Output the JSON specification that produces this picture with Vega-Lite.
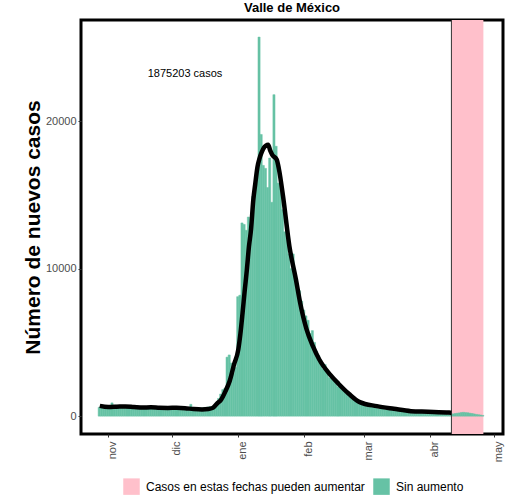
{
  "$schema": "https://vega.github.io/schema/vega-lite/v6.json",
  "width": 422,
  "height": 414,
  "autosize": {"type": "none"},
  "padding": {"left": 81, "top": 20, "right": 22, "bottom": 68},
  "title": {"text": "Valle de México", "fontSize": 13, "fontWeight": "bold", "anchor": "middle", "offset": 5, "color": "black"},
  "datasets": {
    "casos": [
      {"date": "2020/10/27", "n": 600}, {"date": "2020/10/28", "n": 650}, {"date": "2020/10/29", "n": 700},
      {"date": "2020/10/30", "n": 680}, {"date": "2020/10/31", "n": 720}, {"date": "2020/11/01", "n": 650},
      {"date": "2020/11/02", "n": 900}, {"date": "2020/11/03", "n": 700}, {"date": "2020/11/04", "n": 750},
      {"date": "2020/11/05", "n": 620}, {"date": "2020/11/06", "n": 580}, {"date": "2020/11/07", "n": 700},
      {"date": "2020/11/08", "n": 720}, {"date": "2020/11/09", "n": 680}, {"date": "2020/11/10", "n": 650},
      {"date": "2020/11/11", "n": 600}, {"date": "2020/11/12", "n": 580}, {"date": "2020/11/13", "n": 650},
      {"date": "2020/11/14", "n": 700}, {"date": "2020/11/15", "n": 680}, {"date": "2020/11/16", "n": 640},
      {"date": "2020/11/17", "n": 600}, {"date": "2020/11/18", "n": 560}, {"date": "2020/11/19", "n": 620},
      {"date": "2020/11/20", "n": 650}, {"date": "2020/11/21", "n": 640}, {"date": "2020/11/22", "n": 600},
      {"date": "2020/11/23", "n": 560}, {"date": "2020/11/24", "n": 540}, {"date": "2020/11/25", "n": 600},
      {"date": "2020/11/26", "n": 620}, {"date": "2020/11/27", "n": 610}, {"date": "2020/11/28", "n": 580},
      {"date": "2020/11/29", "n": 550}, {"date": "2020/11/30", "n": 520}, {"date": "2020/12/01", "n": 580},
      {"date": "2020/12/02", "n": 600}, {"date": "2020/12/03", "n": 590}, {"date": "2020/12/04", "n": 560},
      {"date": "2020/12/05", "n": 540}, {"date": "2020/12/06", "n": 520}, {"date": "2020/12/07", "n": 560},
      {"date": "2020/12/08", "n": 580}, {"date": "2020/12/09", "n": 800}, {"date": "2020/12/10", "n": 560},
      {"date": "2020/12/11", "n": 530}, {"date": "2020/12/12", "n": 500}, {"date": "2020/12/13", "n": 520},
      {"date": "2020/12/14", "n": 560}, {"date": "2020/12/15", "n": 580}, {"date": "2020/12/16", "n": 600},
      {"date": "2020/12/17", "n": 620}, {"date": "2020/12/18", "n": 650}, {"date": "2020/12/19", "n": 600},
      {"date": "2020/12/20", "n": 560}, {"date": "2020/12/21", "n": 900}, {"date": "2020/12/22", "n": 1200},
      {"date": "2020/12/23", "n": 1500}, {"date": "2020/12/24", "n": 1800}, {"date": "2020/12/25", "n": 1900},
      {"date": "2020/12/26", "n": 4000}, {"date": "2020/12/27", "n": 4150}, {"date": "2020/12/28", "n": 3600},
      {"date": "2020/12/29", "n": 2900}, {"date": "2020/12/30", "n": 3300}, {"date": "2020/12/31", "n": 8100},
      {"date": "2021/01/01", "n": 8200}, {"date": "2021/01/02", "n": 13100}, {"date": "2021/01/03", "n": 13000},
      {"date": "2021/01/04", "n": 12600}, {"date": "2021/01/05", "n": 13500}, {"date": "2021/01/06", "n": 12800},
      {"date": "2021/01/07", "n": 14900}, {"date": "2021/01/08", "n": 15600}, {"date": "2021/01/09", "n": 16500},
      {"date": "2021/01/10", "n": 25700}, {"date": "2021/01/11", "n": 19100}, {"date": "2021/01/12", "n": 17000},
      {"date": "2021/01/13", "n": 16800}, {"date": "2021/01/14", "n": 15500}, {"date": "2021/01/15", "n": 17500},
      {"date": "2021/01/16", "n": 14500}, {"date": "2021/01/17", "n": 21800}, {"date": "2021/01/18", "n": 18300},
      {"date": "2021/01/19", "n": 15800}, {"date": "2021/01/20", "n": 16000}, {"date": "2021/01/21", "n": 14000},
      {"date": "2021/01/22", "n": 12500}, {"date": "2021/01/23", "n": 13000}, {"date": "2021/01/24", "n": 11000},
      {"date": "2021/01/25", "n": 10000}, {"date": "2021/01/26", "n": 11000}, {"date": "2021/01/27", "n": 9500},
      {"date": "2021/01/28", "n": 8800}, {"date": "2021/01/29", "n": 8500}, {"date": "2021/01/30", "n": 7800},
      {"date": "2021/01/31", "n": 7200}, {"date": "2021/02/01", "n": 6800}, {"date": "2021/02/02", "n": 6500},
      {"date": "2021/02/03", "n": 5600}, {"date": "2021/02/04", "n": 5800}, {"date": "2021/02/05", "n": 5000},
      {"date": "2021/02/06", "n": 4400}, {"date": "2021/02/07", "n": 4100}, {"date": "2021/02/08", "n": 3800},
      {"date": "2021/02/09", "n": 3200}, {"date": "2021/02/10", "n": 3500}, {"date": "2021/02/11", "n": 2900},
      {"date": "2021/02/12", "n": 2600}, {"date": "2021/02/13", "n": 2800}, {"date": "2021/02/14", "n": 2400},
      {"date": "2021/02/15", "n": 2200}, {"date": "2021/02/16", "n": 2000}, {"date": "2021/02/17", "n": 2100},
      {"date": "2021/02/18", "n": 1800}, {"date": "2021/02/19", "n": 1700}, {"date": "2021/02/20", "n": 1500},
      {"date": "2021/02/21", "n": 1600}, {"date": "2021/02/22", "n": 1300}, {"date": "2021/02/23", "n": 1200},
      {"date": "2021/02/24", "n": 1100}, {"date": "2021/02/25", "n": 1000}, {"date": "2021/02/26", "n": 950},
      {"date": "2021/02/27", "n": 900}, {"date": "2021/02/28", "n": 800}, {"date": "2021/03/01", "n": 750},
      {"date": "2021/03/02", "n": 700}, {"date": "2021/03/03", "n": 650}, {"date": "2021/03/04", "n": 600},
      {"date": "2021/03/05", "n": 620}, {"date": "2021/03/06", "n": 550}, {"date": "2021/03/07", "n": 500},
      {"date": "2021/03/08", "n": 520}, {"date": "2021/03/09", "n": 480}, {"date": "2021/03/10", "n": 450},
      {"date": "2021/03/11", "n": 430}, {"date": "2021/03/12", "n": 420}, {"date": "2021/03/13", "n": 400},
      {"date": "2021/03/14", "n": 380}, {"date": "2021/03/15", "n": 390}, {"date": "2021/03/16", "n": 360},
      {"date": "2021/03/17", "n": 350}, {"date": "2021/03/18", "n": 340}, {"date": "2021/03/19", "n": 330},
      {"date": "2021/03/20", "n": 350}, {"date": "2021/03/21", "n": 320}, {"date": "2021/03/22", "n": 310},
      {"date": "2021/03/23", "n": 300}, {"date": "2021/03/24", "n": 320}, {"date": "2021/03/25", "n": 290},
      {"date": "2021/03/26", "n": 280}, {"date": "2021/03/27", "n": 300}, {"date": "2021/03/28", "n": 270},
      {"date": "2021/03/29", "n": 260}, {"date": "2021/03/30", "n": 280}, {"date": "2021/03/31", "n": 250},
      {"date": "2021/04/01", "n": 260}, {"date": "2021/04/02", "n": 250}, {"date": "2021/04/03", "n": 240},
      {"date": "2021/04/04", "n": 250}, {"date": "2021/04/05", "n": 230}, {"date": "2021/04/06", "n": 240},
      {"date": "2021/04/07", "n": 220}, {"date": "2021/04/08", "n": 230}, {"date": "2021/04/09", "n": 210},
      {"date": "2021/04/10", "n": 220}, {"date": "2021/04/11", "n": 150}, {"date": "2021/04/12", "n": 180},
      {"date": "2021/04/13", "n": 200}, {"date": "2021/04/14", "n": 220}, {"date": "2021/04/15", "n": 250},
      {"date": "2021/04/16", "n": 260}, {"date": "2021/04/17", "n": 240}, {"date": "2021/04/18", "n": 230},
      {"date": "2021/04/19", "n": 200}, {"date": "2021/04/20", "n": 180}, {"date": "2021/04/21", "n": 150},
      {"date": "2021/04/22", "n": 120}, {"date": "2021/04/23", "n": 100}, {"date": "2021/04/24", "n": 80},
      {"date": "2021/04/25", "n": 50}
    ],
    "suavizado": [
      {"date": "2020/10/28", "s": 700}, {"date": "2020/11/01", "s": 620}, {"date": "2020/11/05", "s": 640},
      {"date": "2020/11/09", "s": 660}, {"date": "2020/11/13", "s": 620}, {"date": "2020/11/17", "s": 580},
      {"date": "2020/11/21", "s": 600}, {"date": "2020/11/25", "s": 570}, {"date": "2020/11/29", "s": 560},
      {"date": "2020/12/03", "s": 570}, {"date": "2020/12/07", "s": 540}, {"date": "2020/12/11", "s": 480},
      {"date": "2020/12/15", "s": 450}, {"date": "2020/12/18", "s": 480}, {"date": "2020/12/20", "s": 560},
      {"date": "2020/12/22", "s": 850}, {"date": "2020/12/24", "s": 1130}, {"date": "2020/12/26", "s": 1700},
      {"date": "2020/12/28", "s": 2400}, {"date": "2020/12/30", "s": 3500}, {"date": "2021/01/01", "s": 4520},
      {"date": "2021/01/02", "s": 5600}, {"date": "2021/01/03", "s": 7000}, {"date": "2021/01/04", "s": 8500},
      {"date": "2021/01/05", "s": 9900}, {"date": "2021/01/06", "s": 11500}, {"date": "2021/01/07", "s": 12700},
      {"date": "2021/01/08", "s": 14600}, {"date": "2021/01/09", "s": 15800}, {"date": "2021/01/10", "s": 16900},
      {"date": "2021/01/11", "s": 17500}, {"date": "2021/01/12", "s": 17900}, {"date": "2021/01/13", "s": 18200},
      {"date": "2021/01/14", "s": 18350}, {"date": "2021/01/15", "s": 18400}, {"date": "2021/01/16", "s": 18000},
      {"date": "2021/01/17", "s": 17700}, {"date": "2021/01/19", "s": 17400}, {"date": "2021/01/20", "s": 16800},
      {"date": "2021/01/22", "s": 14900}, {"date": "2021/01/25", "s": 11500}, {"date": "2021/01/28", "s": 9300},
      {"date": "2021/01/30", "s": 7700}, {"date": "2021/02/02", "s": 5900}, {"date": "2021/02/05", "s": 4750},
      {"date": "2021/02/08", "s": 3840}, {"date": "2021/02/13", "s": 2830}, {"date": "2021/02/17", "s": 2200},
      {"date": "2021/02/22", "s": 1500}, {"date": "2021/02/27", "s": 950}, {"date": "2021/03/07", "s": 680},
      {"date": "2021/03/15", "s": 500}, {"date": "2021/03/23", "s": 340}, {"date": "2021/03/31", "s": 300},
      {"date": "2021/04/10", "s": 240}, {"date": "2021/04/11", "s": 230}
    ]
  },
  "encoding": {
    "x": {
      "type": "temporal",
      "scale": {
        "domain": [
          {"year": 2020, "month": 10, "date": 19, "hours": 4, "minutes": 30},
          {"year": 2021, "month": 5, "date": 5, "hours": 5}
        ]
      },
      "axis": {
        "title": null,
        "grid": false,
        "domain": false,
        "tickCount": {"interval": "month", "step": 1},
        "labelExpr": "['ene','feb','mar','abr','may','jun','jul','ago','sep','oct','nov','dic'][month(datum.value)]",
        "labelAngle": 270,
        "labelAlign": "right",
        "labelBaseline": "middle",
        "labelOffset": 4,
        "labelFontSize": 11,
        "labelColor": "#4d4d4d",
        "labelPadding": 4,
        "labelFlush": false,
        "labelOverlap": false,
        "tickSize": 3,
        "tickColor": "#333333"
      }
    }
  },
  "layer": [
    {
      "data": {"values": [{"ini": "2021/04/11", "fin": "2021/04/26", "tipo": "Casos en estas fechas pueden aumentar"}]},
      "mark": {"type": "rect"},
      "encoding": {
        "x": {"field": "ini", "type": "temporal"},
        "x2": {"field": "fin"},
        "color": {
          "field": "tipo",
          "type": "nominal",
          "scale": {"domain": ["Casos en estas fechas pueden aumentar", "Sin aumento"], "range": ["pink", "#66C2A5"]},
          "legend": {
            "title": null,
            "orient": "none",
            "legendX": 42,
            "legendY": 458,
            "direction": "horizontal",
            "symbolType": "square",
            "symbolSize": 272,
            "symbolStrokeWidth": 0,
            "symbolOpacity": 1,
            "labelFontSize": 12,
            "labelColor": "black",
            "labelLimit": 0,
            "labelOffset": 6,
            "columnPadding": 8
          }
        }
      }
    },
    {
      "data": {"name": "casos"},
      "mark": {"type": "bar", "binSpacing": 0, "stroke": "#66C2A5", "strokeWidth": 0.5},
      "encoding": {
        "x": {"field": "date", "type": "temporal", "timeUnit": "yearmonthdate"},
        "y": {
          "field": "n",
          "type": "quantitative",
          "scale": {"domain": [-1210, 26860], "nice": false, "zero": false},
          "axis": {
            "title": "Número de nuevos casos",
            "titleFontSize": 21,
            "titleFontWeight": "bold",
            "titleColor": "black",
            "titlePadding": 2,
            "values": [0, 10000, 20000],
            "format": "d",
            "grid": false,
            "domain": false,
            "labelFontSize": 11,
            "labelColor": "#4d4d4d",
            "labelPadding": 2,
            "tickSize": 3,
            "tickColor": "#333333"
          }
        },
        "color": {"datum": "Sin aumento"}
      }
    },
    {
      "data": {"values": [{"ini": "2021/04/11"}]},
      "mark": {"type": "rule", "color": "#333333", "strokeWidth": 1},
      "encoding": {"x": {"field": "ini", "type": "temporal"}}
    },
    {
      "data": {"name": "suavizado"},
      "mark": {"type": "line", "color": "black", "strokeWidth": 4.5, "interpolate": "monotone"},
      "encoding": {
        "x": {"field": "date", "type": "temporal"},
        "y": {"field": "s", "type": "quantitative"}
      }
    },
    {
      "data": {"values": [{"date": "2020/12/07", "y": 23200, "label": "1875203 casos"}]},
      "mark": {"type": "text", "fontSize": 11, "color": "black"},
      "encoding": {
        "x": {"field": "date", "type": "temporal"},
        "y": {"field": "y", "type": "quantitative"},
        "text": {"field": "label"}
      }
    }
  ],
  "config": {
    "font": "Liberation Sans",
    "view": {"stroke": "black", "strokeWidth": 3},
    "background": "white"
  }
}
